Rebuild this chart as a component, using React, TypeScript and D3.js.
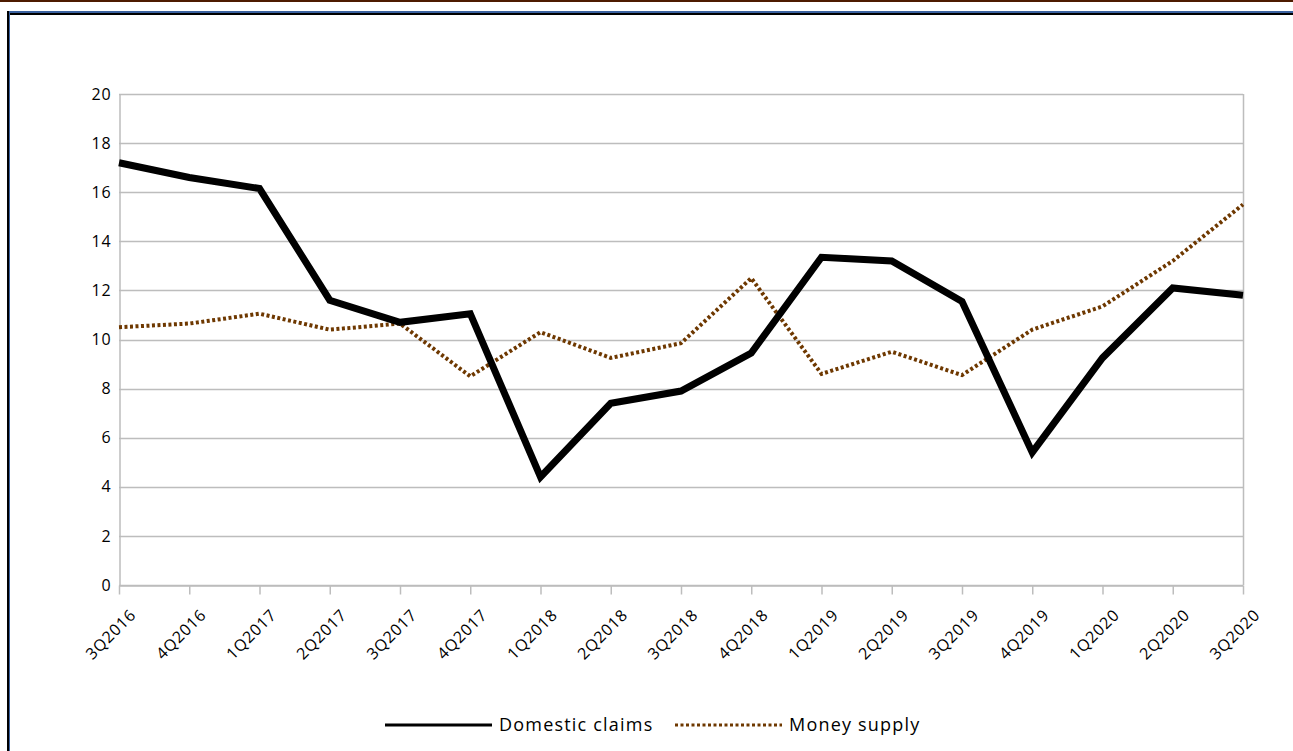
import React, { useEffect, useRef } from "react";
import { select, scalePoint, scaleLinear, axisBottom, axisLeft, line } from "d3";

const quarters = [
  "3Q2016", "4Q2016", "1Q2017", "2Q2017", "3Q2017", "4Q2017", "1Q2018", "2Q2018", "3Q2018",
  "4Q2018", "1Q2019", "2Q2019", "3Q2019", "4Q2019", "1Q2020", "2Q2020", "3Q2020",
];
const domesticClaims = [
  17.2, 16.6, 16.15, 11.6, 10.7, 11.05, 4.4, 7.4, 7.9, 9.45, 13.35, 13.2, 11.55, 5.4, 9.25, 12.1, 11.8,
];
const moneySupply = [
  10.5, 10.65, 11.05, 10.4, 10.65, 8.5, 10.3, 9.25, 9.85, 12.5, 8.6, 9.5, 8.55, 10.4, 11.35, 13.2, 15.5,
];
const yTicks = [0, 2, 4, 6, 8, 10, 12, 14, 16, 18, 20];

const FONT = "'Open Sans', sans-serif";

function chart(el: SVGSVGElement) {
  // dimensions
  const width = 1293;
  const height = 751;
  const marginLeft = 119;
  const marginRight = 50;
  const marginTop = 94;
  const plotBottom = 585;

  const svg = select(el);
  svg.selectAll("*").remove();

  svg.append("rect").attr("width", width).attr("height", height).attr("fill", "#fff");

  // page frame
  svg.append("rect").attr("x", 0).attr("y", 0).attr("width", width).attr("height", 2).attr("fill", "#4d1b00");
  svg.append("rect").attr("x", 7).attr("y", 11).attr("width", width - 7).attr("height", 2).attr("fill", "#3b62a0");
  svg.append("rect").attr("x", 7).attr("y", 13).attr("width", width - 7).attr("height", 2).attr("fill", "#000");
  svg.append("rect").attr("x", 7).attr("y", 11).attr("width", 2).attr("height", height - 11).attr("fill", "#000");
  svg.append("rect").attr("x", 9).attr("y", 13).attr("width", 1).attr("height", height - 13).attr("fill", "#3b62a0");

  const x = scalePoint<string>()
    .domain(quarters)
    .range([marginLeft, width - marginRight]);

  const y = scaleLinear()
    .domain([0, 20])
    .range([plotBottom, marginTop]);

  // gridlines
  svg.append("g")
    .selectAll("line")
    .data(yTicks)
    .join("line")
    .attr("x1", marginLeft)
    .attr("x2", width - marginRight)
    .attr("y1", (d) => Math.round(y(d)) + 0.5)
    .attr("y2", (d) => Math.round(y(d)) + 0.5)
    .attr("stroke", "#bdbdbd")
    .attr("stroke-width", 1.5);

  // right border of plot
  svg.append("line")
    .attr("x1", width - marginRight + 0.5)
    .attr("x2", width - marginRight + 0.5)
    .attr("y1", marginTop)
    .attr("y2", plotBottom)
    .attr("stroke", "#bdbdbd")
    .attr("stroke-width", 1.5);

  // y axis
  svg.append("g")
    .attr("transform", `translate(${marginLeft + 0.5},0)`)
    .call(axisLeft(y).tickValues(yTicks).tickSize(0).tickPadding(8))
    .call((g) => g.select(".domain").attr("stroke", "#bdbdbd").attr("stroke-width", 1.5))
    .call((g) =>
      g.selectAll("text")
        .attr("font-family", FONT)
        .attr("font-size", 16)
        .attr("letter-spacing", 0.8)
        .attr("fill", "#000")
    );

  // x axis
  svg.append("g")
    .attr("transform", `translate(0,${Math.round(plotBottom) + 0.5})`)
    .call(axisBottom(x).tickSize(9).tickSizeOuter(0))
    .call((g) => g.select(".domain").attr("stroke", "#bdbdbd").attr("stroke-width", 1.5))
    .call((g) => g.selectAll(".tick line").attr("stroke", "#bdbdbd").attr("stroke-width", 1.5))
    .call((g) =>
      g.selectAll("text")
        .attr("font-family", FONT)
        .attr("font-size", 16)
        .attr("letter-spacing", 0.8)
        .attr("fill", "#000")
        .attr("text-anchor", "end")
        .attr("dy", "0.35em")
        .attr("transform", "translate(5,18) rotate(-45)")
    );

  const mkLine = line<number>()
    .x((d, i) => x(quarters[i]) as number)
    .y((d) => y(d));

  svg.append("path")
    .datum(moneySupply)
    .attr("d", mkLine)
    .attr("fill", "none")
    .attr("stroke", "#6e3800")
    .attr("stroke-width", 4)
    .attr("stroke-dasharray", "3 2.5");

  svg.append("path")
    .datum(domesticClaims)
    .attr("d", mkLine)
    .attr("fill", "none")
    .attr("stroke", "#000")
    .attr("stroke-width", 7)
    .attr("stroke-linejoin", "miter");

  // legend
  const legendY = 725;
  const items = [
    { label: "Domestic claims", x0: 385, color: "#000", width: 3, dash: null as string | null },
    { label: "Money supply", x0: 675, color: "#6e3800", width: 3, dash: "3 2.5" },
  ];
  const lg = svg.append("g");
  lg.selectAll("line")
    .data(items)
    .join("line")
    .attr("x1", (d) => d.x0)
    .attr("x2", (d) => d.x0 + 107)
    .attr("y1", legendY)
    .attr("y2", legendY)
    .attr("stroke", (d) => d.color)
    .attr("stroke-width", (d) => d.width)
    .attr("stroke-dasharray", (d) => d.dash);
  lg.selectAll("text")
    .data(items)
    .join("text")
    .attr("x", (d) => d.x0 + 114)
    .attr("y", legendY)
    .attr("dy", "0.35em")
    .attr("font-family", FONT)
    .attr("font-size", 18)
    .attr("letter-spacing", 1.2)
    .attr("fill", "#000")
    .text((d) => d.label);
}

export default function App() {
  const ref = useRef<SVGSVGElement>(null);
  useEffect(() => {
    if (ref.current) chart(ref.current);
  }, []);
  return (
    <svg
      ref={ref}
      width={1293}
      height={751}
      style={{ position: "absolute", left: 0, top: 0, display: "block" }}
    />
  );
}
